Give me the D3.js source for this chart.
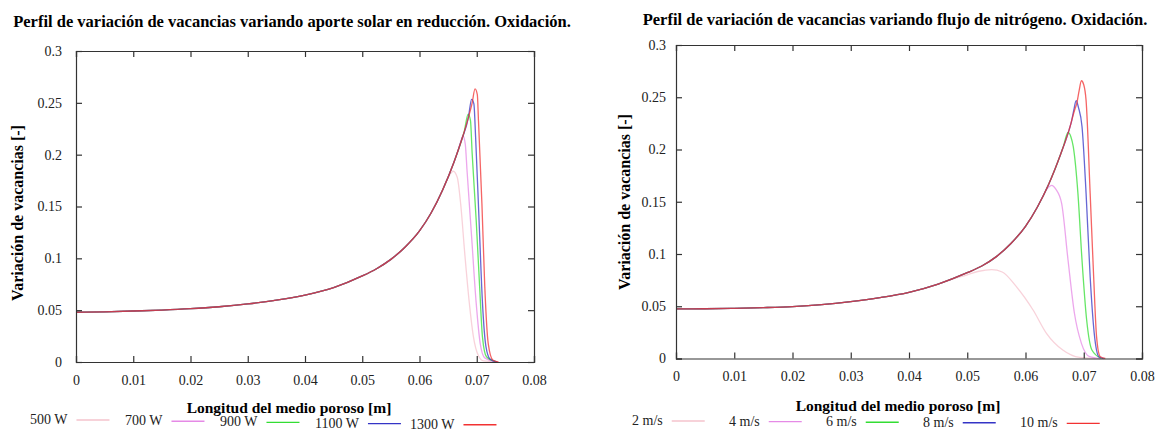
<!DOCTYPE html>
<html>
<head>
<meta charset="utf-8">
<script src="https://cdn.jsdelivr.net/npm/d3@7"></script>
<style>
  body { margin: 0; background: #fff; }
  svg text { font-family: "Liberation Serif", "Times New Roman", serif; }
</style>
</head>
<body>
<div id="chart"></div>
<script>
// Two vacancy profiles side by side

const xTicks = [0, 0.01, 0.02, 0.03, 0.04, 0.05, 0.06, 0.07, 0.08];
const yTicks = [0, 0.05, 0.1, 0.15, 0.2, 0.25, 0.3];

const solarLabels = ['500 W', '700 W', '900 W', '1100 W', '1300 W'];
const flowLabels  = ['2 m/s', '4 m/s', '6 m/s', '8 m/s', '10 m/s'];
const seriesColors = ['#f5c3cd', '#e58ae6', '#33dd33', '#3434c6', '#f23232'];

// shared rising part (solar panel)
const solarBase = [
  [0, 0.048], [0.005, 0.0484], [0.01, 0.0492], [0.015, 0.0501], [0.02, 0.0514],
  [0.025, 0.0533], [0.03, 0.056], [0.035, 0.0596], [0.04, 0.0646], [0.045, 0.0718],
  [0.05, 0.083], [0.0525, 0.090], [0.055, 0.099], [0.0575, 0.111], [0.06, 0.1265],
  [0.062, 0.1435], [0.064, 0.1655], [0.066, 0.1925], [0.0675, 0.2165], [0.0685, 0.235],
  [0.0695, 0.255]
];
// where each curve leaves the shared part
const solarTails = [
  [[0.064, 0.1655], [0.065, 0.178], [0.0659, 0.184], [0.0666, 0.178], [0.0672, 0.152],
   [0.0679, 0.105], [0.0687, 0.057], [0.0694, 0.025], [0.0703, 0.006], [0.0712, 0.001], [0.0735, 0]],
  [[0.0665, 0.200], [0.0671, 0.211], [0.0676, 0.218], [0.0680, 0.210], [0.0683, 0.185],
   [0.0691, 0.121], [0.0699, 0.057], [0.0706, 0.018], [0.0714, 0.004], [0.0735, 0]],
  [[0.0678, 0.222], [0.0685, 0.239], [0.0689, 0.233], [0.0692, 0.201], [0.0699, 0.137],
   [0.0705, 0.073], [0.071, 0.024], [0.0717, 0.005], [0.0735, 0]],
  [[0.0686, 0.238], [0.0691, 0.2534], [0.0695, 0.249], [0.0698, 0.217], [0.0704, 0.137],
   [0.071, 0.057], [0.0716, 0.015], [0.0723, 0.003], [0.0736, 0]],
  [[0.0692, 0.250], [0.0697, 0.2635], [0.0701, 0.258], [0.0703, 0.233], [0.0709, 0.153],
   [0.0714, 0.073], [0.072, 0.018], [0.0728, 0.002], [0.0738, 0]]
];

// shared rising part (nitrogen flow panel)
const flowBase = [
  [0, 0.0475], [0.005, 0.0476], [0.01, 0.048], [0.015, 0.0487], [0.02, 0.0497],
  [0.025, 0.0515], [0.03, 0.0544], [0.035, 0.0582], [0.04, 0.0633], [0.045, 0.0712],
  [0.05, 0.0821], [0.0525, 0.0885], [0.055, 0.0975], [0.0575, 0.110], [0.06, 0.1265],
  [0.062, 0.1445], [0.064, 0.167], [0.066, 0.195], [0.0675, 0.219], [0.0685, 0.239],
  [0.0697, 0.263]
];
const flowTails = [
  [[0.047, 0.0752], [0.05, 0.080], [0.052, 0.0835], [0.0542, 0.0850], [0.056, 0.0828],
   [0.0584, 0.069], [0.0613, 0.0464], [0.0636, 0.0241], [0.0664, 0.0081], [0.0693, 0.001], [0.072, 0]],
  [[0.063, 0.1555], [0.0638, 0.163], [0.0645, 0.1657], [0.0652, 0.162], [0.0662, 0.1485],
   [0.0673, 0.0943], [0.0684, 0.0433], [0.0696, 0.0145], [0.071, 0.0017], [0.0728, 0]],
  [[0.0665, 0.203], [0.0673, 0.2164], [0.0678, 0.212], [0.0682, 0.2027], [0.069, 0.158],
   [0.0697, 0.0943], [0.0705, 0.0368], [0.0714, 0.0081], [0.073, 0]],
  [[0.0679, 0.227], [0.0683, 0.238], [0.0687, 0.2467], [0.0691, 0.240], [0.0697, 0.222],
   [0.0704, 0.158], [0.0711, 0.0783], [0.0718, 0.0241], [0.0726, 0.0017], [0.0734, 0]],
  [[0.0688, 0.244], [0.0692, 0.256], [0.0696, 0.2658], [0.07, 0.262], [0.0704, 0.247],
   [0.0711, 0.158], [0.0717, 0.0783], [0.0722, 0.0209], [0.0728, 0.002], [0.0737, 0]]
];

const svg = d3.select("#chart").append("svg")
  .attr("width", 1161)
  .attr("height", 433);

function buildSeries(base, tail) {
  return base.filter(p => p[0] < tail[0][0]).concat(tail);
}

function drawPanel(opts) {
  const x = d3.scaleLinear().domain([0, 0.08]).range([opts.left, opts.right]);
  const y = d3.scaleLinear().domain([0, 0.3]).range([opts.bottom, opts.top]);
  const g = svg.append("g");

  // title
  g.append("text")
    .attr("x", opts.titleX).attr("y", opts.titleY)
    .attr("text-anchor", "middle")
    .style("font-size", "16.5px").style("font-weight", "bold")
    .text(opts.title);

  // curves, lightest first so the red one ends on top
  const line = d3.line()
    .x(d => x(d[0])).y(d => y(d[1]))
    .curve(d3.curveMonotoneX);
  opts.tails.forEach((tail, i) => {
    g.append("path")
      .datum(buildSeries(opts.base, tail))
      .attr("fill", "none")
      .attr("stroke", seriesColors[i])
      .attr("stroke-width", 1.3)
      .attr("stroke-opacity", 0.75)
      .attr("d", line);
  });

  // axes with inward ticks on all sides
  const tick = 6;
  g.append("g").attr("transform", `translate(0,${opts.bottom})`)
    .call(d3.axisBottom(x).tickValues(xTicks).tickSize(-tick).tickPadding(13).tickFormat(d => String(+d.toFixed(2))));
  g.append("g").attr("transform", `translate(0,${opts.top})`)
    .call(d3.axisTop(x).tickValues(xTicks).tickSize(-tick).tickFormat(""));
  g.append("g").attr("transform", `translate(${opts.left},0)`)
    .call(d3.axisLeft(y).tickValues(yTicks).tickSize(-tick).tickPadding(opts.yPad).tickFormat(d => String(+d.toFixed(2))));
  g.append("g").attr("transform", `translate(${opts.right},0)`)
    .call(d3.axisRight(y).tickValues(yTicks).tickSize(-tick).tickFormat(""));

  g.selectAll(".domain").attr("stroke", "#333").attr("stroke-width", 1.2);
  g.selectAll(".tick line").attr("stroke", "#333").attr("stroke-width", 1.2);
  g.selectAll(".tick text")
    .style("font-family", '"Liberation Serif", serif')
    .style("font-size", "14px")
    .attr("fill", "#222");

  // axis titles
  g.append("text")
    .attr("x", opts.xLabelX).attr("y", opts.xLabelY)
    .attr("text-anchor", "middle")
    .style("font-size", "15.5px").style("font-weight", "bold")
    .text("Longitud del medio poroso [m]");
  g.append("text")
    .attr("transform", `translate(${opts.yLabelX},${opts.yLabelY}) rotate(-90)`)
    .attr("text-anchor", "middle")
    .style("font-size", "16px").style("font-weight", "bold")
    .text("Variación de vacancias [-]");

  // legend strip along the bottom
  opts.labels.forEach((lab, i) => {
    const lx = opts.legendX + i * opts.legendStep;
    const ly = opts.legendY + i * opts.legendSlope;
    const t = g.append("text")
      .attr("x", lx).attr("y", ly)
      .style("font-size", "14px")
      .attr("fill", "#222")
      .text(lab);
    const w = t.node().getComputedTextLength();
    g.append("line")
      .attr("x1", lx + w + 9).attr("x2", lx + w + 42)
      .attr("y1", ly - 4).attr("y2", ly - 4)
      .attr("stroke", seriesColors[i])
      .attr("stroke-width", 1.4);
  });
}

drawPanel({
  title: "Perfil de variación de vacancias variando aporte solar en reducción. Oxidación.",
  titleX: 292, titleY: 27,
  left: 76, right: 534, top: 51, bottom: 362,
  base: solarBase, tails: solarTails, labels: solarLabels,
  yPad: 14,
  xLabelX: 289, xLabelY: 413,
  yLabelX: 23, yLabelY: 213,
  legendX: 30, legendStep: 95, legendY: 424, legendSlope: 1.2
});

drawPanel({
  title: "Perfil de variación de vacancias variando flujo de nitrógeno. Oxidación.",
  titleX: 895, titleY: 25,
  left: 676, right: 1142, top: 45, bottom: 358.5,
  base: flowBase, tails: flowTails, labels: flowLabels,
  yPad: 10,
  xLabelX: 898, xLabelY: 411,
  yLabelX: 630, yLabelY: 202,
  legendX: 632, legendStep: 97, legendY: 425, legendSlope: 0.6
});
</script>
</body>
</html>
